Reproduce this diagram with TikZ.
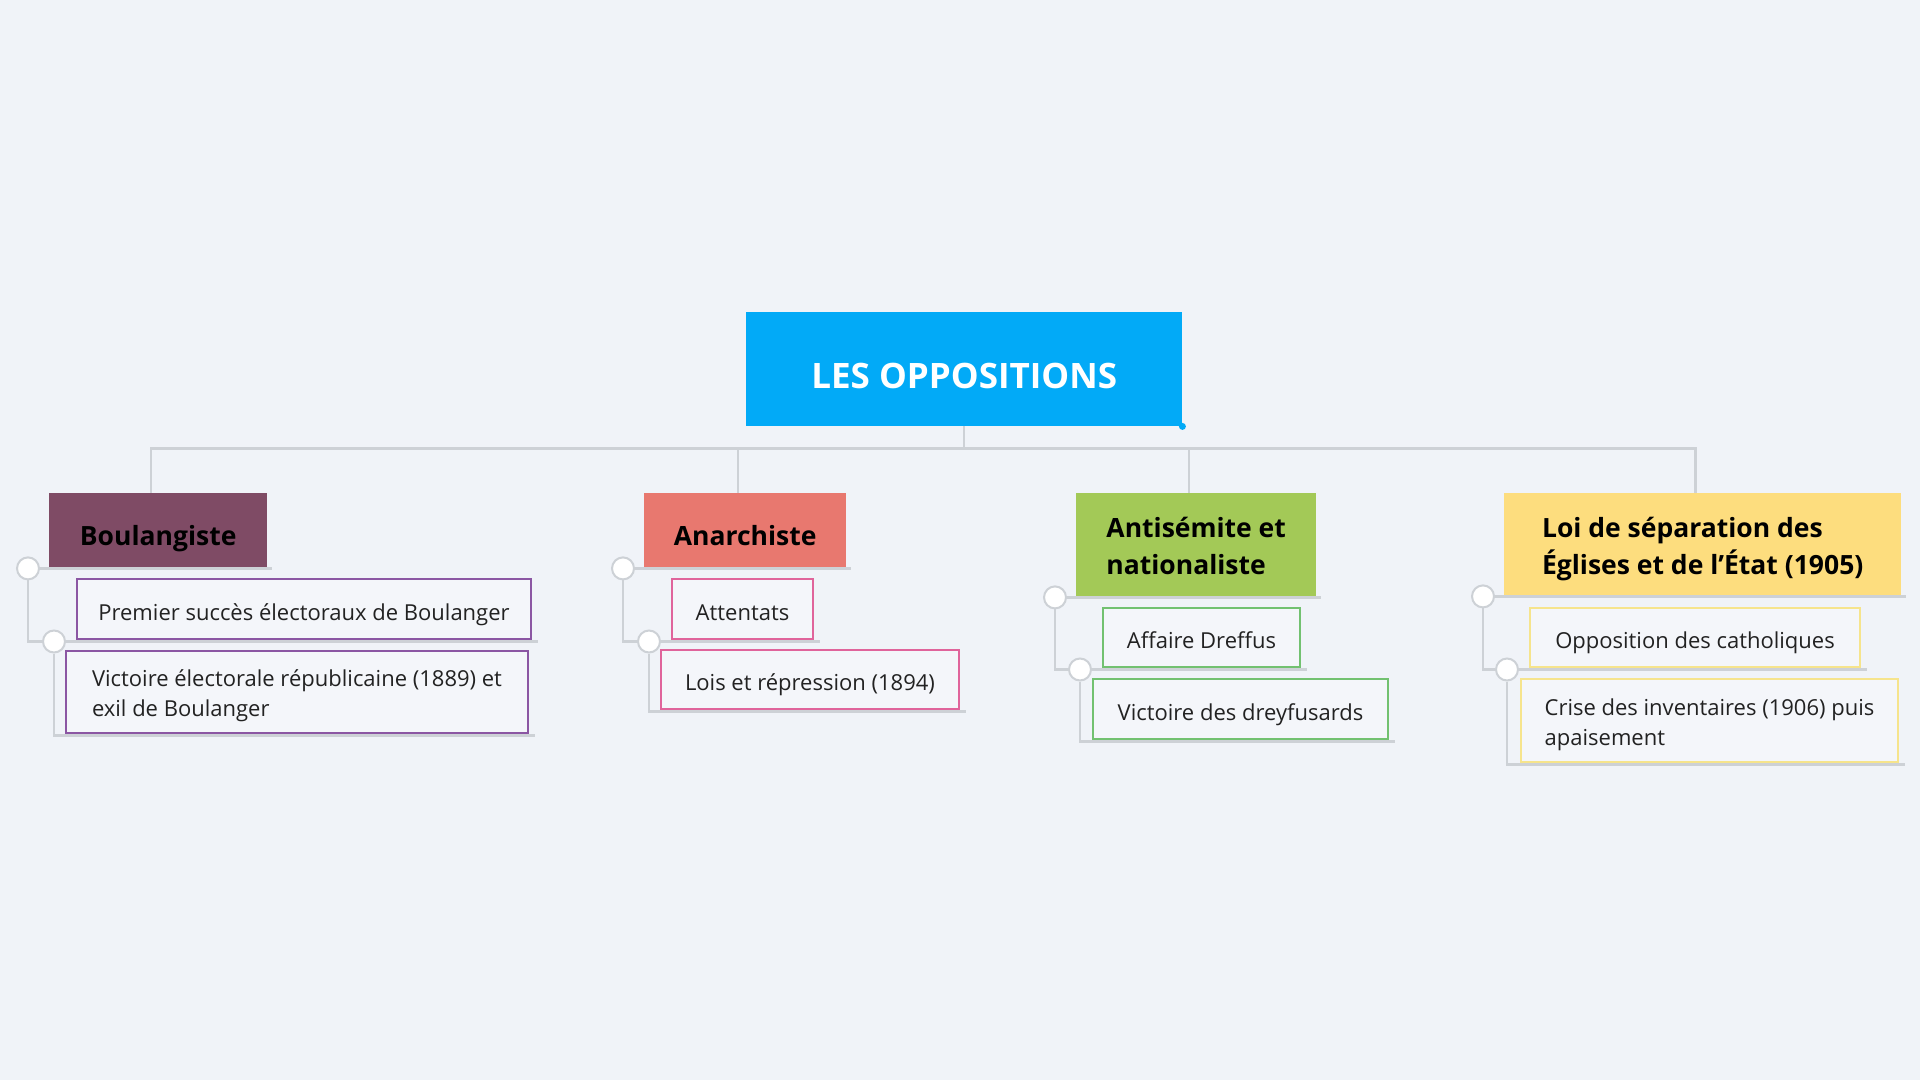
\documentclass[tikz,border=0pt]{standalone}
\usepackage{fontspec}
\setmainfont{Open Sans}
\usetikzlibrary{backgrounds}
\definecolor{bgcol}{HTML}{F0F3F8}
\definecolor{rootblue}{HTML}{02AAF7}
\definecolor{boulfill}{HTML}{7F4B65}
\definecolor{anarfill}{HTML}{E8786F}
\definecolor{antifill}{HTML}{A3C957}
\definecolor{loifill}{HTML}{FDDD7E}
\definecolor{boulline}{HTML}{8B56A3}
\definecolor{anarline}{HTML}{E0649B}
\definecolor{antiline}{HTML}{72C170}
\definecolor{loiline}{HTML}{F6E48C}
\definecolor{linegray}{HTML}{CDD1D6}
\definecolor{leaffill}{HTML}{F4F6FA}
\definecolor{textdark}{HTML}{222222}

\begin{document}
\begin{tikzpicture}[x=1pt,y=-1pt]
	\tikzset{
		rootbox/.style={anchor=north west,rectangle,fill=rootblue,text=white,inner sep=0pt,text height=39pt,text depth=0pt,font=\fontsize{35}{40}\selectfont\bfseries},
		topic/.style={anchor=north west,rectangle,inner sep=0pt,align=left,text=black,font=\fontsize{26.5}{37}\selectfont\bfseries},
		oneline/.style={text height=#1,text depth=0pt},
		leaf/.style={anchor=north west,rectangle,draw,line width=2pt,fill=leaffill,inner sep=0pt,align=left,text=textdark,font=\fontsize{22}{30}\selectfont},
		knob/.style={circle,draw=linegray,fill=white,line width=2pt,minimum size=22pt,inner sep=0pt},
		link/.style={draw=linegray,line width=2.5pt}
	}
	\useasboundingbox (0,0) rectangle (1920,1080);
	% main topic
	\node[rootbox,minimum width=436pt,minimum height=114pt] (root) at (746,312) {LES OPPOSITIONS};
	\coordinate (hub) at ([yshift=-22pt]root.south);
	% topics
	\node[topic,oneline=31pt,fill=boulfill,minimum width=218pt,minimum height=74pt] (boul) at (49,493) {Boulangiste};
	\node[topic,oneline=31pt,fill=anarfill,minimum width=202pt,minimum height=74pt] (anar) at (644,493) {Anarchiste};
	\node[topic,oneline=60pt,fill=antifill,minimum width=240pt,minimum height=103pt] (anti) at (1076,493) {Antisémite et\\nationaliste};
	\node[topic,oneline=61pt,fill=loifill,minimum width=397pt,minimum height=102pt] (loi) at (1504,493) {Loi de séparation des\\Églises et de l’État (1905)};
	% subtopics
	\node[leaf,oneline=22pt,draw=boulline,minimum width=454pt,minimum height=60pt] (boul1) at (76,578) {Premier succès électoraux de Boulanger};
	\node[leaf,oneline=49pt,draw=boulline,minimum width=462pt,minimum height=82pt] (boul2) at (65,650) {Victoire électorale républicaine (1889) et\\exil de Boulanger};
	\node[leaf,oneline=22pt,draw=anarline,minimum width=141pt,minimum height=60pt] (anar1) at (671,578) {Attentats};
	\node[leaf,oneline=22pt,draw=anarline,minimum width=298pt,minimum height=59pt] (anar2) at (660,649) {Lois et répression (1894)};
	\node[leaf,oneline=22pt,draw=antiline,minimum width=197pt,minimum height=59pt] (anti1) at (1102,607) {Affaire Dreffus};
	\node[leaf,oneline=22pt,draw=antiline,minimum width=295pt,minimum height=60pt] (anti2) at (1092,678) {Victoire des dreyfusards};
	\node[leaf,oneline=22pt,draw=loiline,minimum width=330pt,minimum height=59pt] (loi1) at (1529,607) {Opposition des catholiques};
	\node[leaf,oneline=49pt,draw=loiline,minimum width=377pt,minimum height=83pt] (loi2) at (1520,678) {Crise des inventaires (1906) puis\\apaisement};
	% knobs
	\foreach \t in {boul,anar,anti,loi}{
		\node[knob] (\t k) at ([xshift=-21pt,yshift=-1pt]\t.south west) {};
		\node[knob] (\t 1k) at ([xshift=-22pt,yshift=-1.5pt]\t 1.south west) {};
	}
	\fill[rootblue] (root.south east) circle (3.5pt);
	% connectors
	\begin{pgfonlayer}{background}
		\fill[bgcol] (0,0) rectangle (1920,1080);
		\draw[link] (root.south) -- (hub);
		\foreach \t in {boul,anar,anti,loi}{
			\draw[link] (hub) -| ([xshift=-7pt]\t.north);
			\draw[link] (\t k) -- ([xshift=5pt,yshift=-1pt]\t.south east);
			\draw[link] (\t k) |- (\t 1k);
			\draw[link] (\t 1k) -- ([xshift=6pt,yshift=-1.5pt]\t 1.south east);
			\draw[link] (\t 1k) |- ([xshift=6pt,yshift=-1.5pt]\t 2.south east);
		}
	\end{pgfonlayer}
\end{tikzpicture}
\end{document}
